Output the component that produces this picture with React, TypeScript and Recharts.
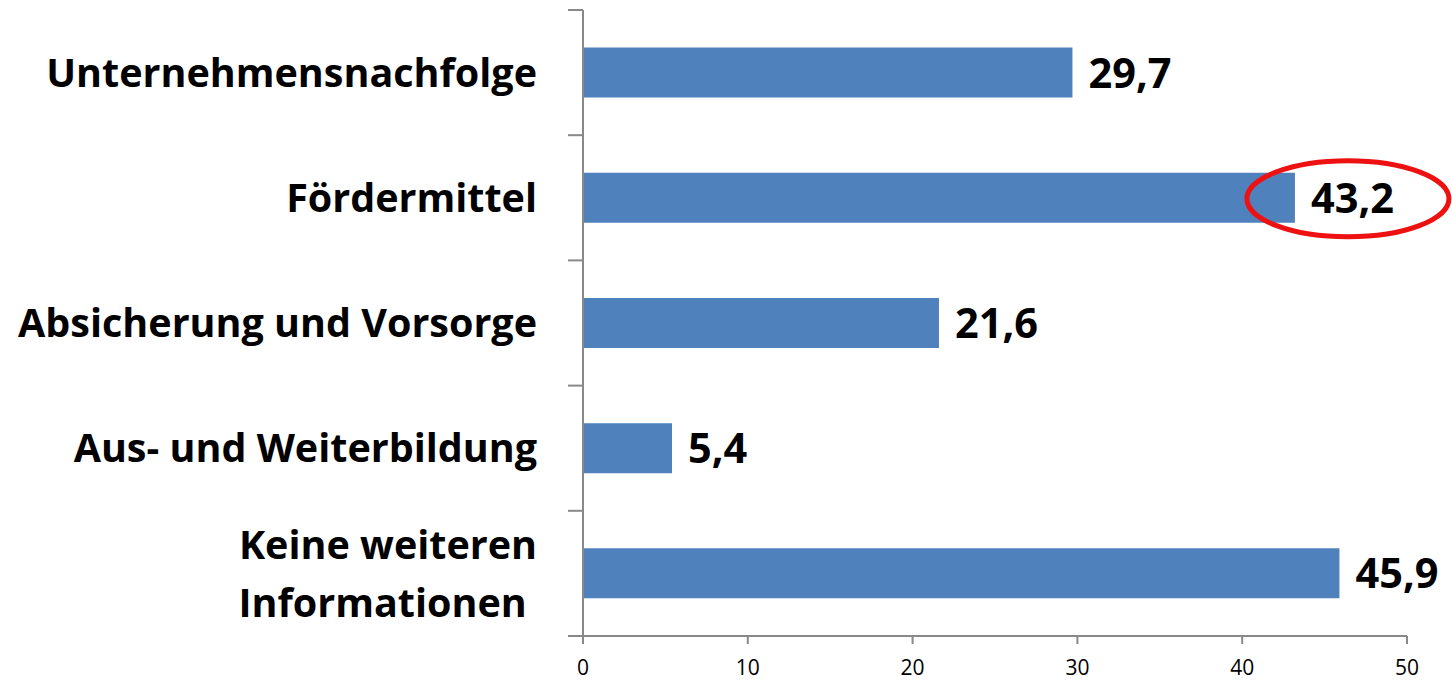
import React from 'react';
import { BarChart, Bar, XAxis, YAxis, LabelList } from 'recharts';

const categories = [
  'Unternehmensnachfolge',
  'Fördermittel',
  'Absicherung und Vorsorge',
  'Aus- und Weiterbildung',
  'Keine weiteren\nInformationen ',
];
const values = [29.7, 43.2, 21.6, 5.4, 45.9];
const highlighted = ['Fördermittel'];
const xTicks = [0, 10, 20, 30, 40, 50];
// category band boundaries, expressed on the index scale [0, n-1] that the helper axis uses
const boundaryTicks = [0, 0.8, 1.6, 2.4, 3.2, 4];

const data = categories.map((name, i) => ({ name, value: values[i], hl: highlighted.includes(name) }));

const FONT = '"Open Sans", "Noto Sans", sans-serif';
const AXIS = '#898989';

const CatTick = (props: any) => {
  const { x, y, payload } = props;
  const lines: string[] = String(payload.value).split('\n');
  const lh = 58;
  const fs = 39.5;
  const start = y - ((lines.length - 1) * lh) / 2 + fs * 0.36;
  return (
    <text x={x} y={start} textAnchor="end" fontFamily={FONT} fontWeight={700} fontSize={fs} fill="#000" style={{ whiteSpace: 'pre' }}>
      {lines.map((l, i) => (
        <tspan key={i} x={x} dy={i === 0 ? 0 : lh}>{l}</tspan>
      ))}
    </text>
  );
};

const NoTick = () => <g />;

const ValueLabel = (props: any) => {
  const { x, y, width, height, value, index } = props;
  const row = data[index];
  const tx = x + width + 16;
  const cy = y + height / 2;
  return (
    <g>
      <text x={tx} y={cy} dy="0.36em" fontFamily={FONT} fontWeight={700} fontSize={41.5} fill="#000">
        {String(value).replace('.', ',')}
      </text>
      {row && row.hl ? (
        <ellipse cx={x + width + 53} cy={cy + 1} rx={101} ry={38} fill="none" stroke="#EE1111" strokeWidth={5} />
      ) : null}
    </g>
  );
};

export default function App() {
  return (
    <div style={{ position: 'absolute', left: 0, top: 0, width: 1452, height: 680, background: '#fff' }}>
      <BarChart
        width={1452}
        height={680}
        data={data}
        layout="vertical"
        margin={{ top: 10, right: 45, bottom: 0, left: 0 }}
        barCategoryGap="30%"
      >
        <XAxis
          type="number"
          domain={[0, 50]}
          ticks={xTicks}
          height={44}
          tickSize={8}
          tickMargin={16}
          stroke={AXIS}
          strokeWidth={2}
          tick={{ fontFamily: FONT, fontSize: 21, fill: '#000' }}
        />
        <YAxis
          yAxisId="a"
          type="number"
          domain={[0, 4]}
          allowDataOverflow={true}
          ticks={boundaryTicks}
          interval={0}
          width={1}
          tick={<NoTick />}
          tickLine={{ stroke: AXIS, strokeWidth: 2 }}
          tickSize={15}
          stroke={AXIS}
          strokeWidth={2}
        />
        <YAxis
          yAxisId="b"
          type="category"
          dataKey="name"
          width={582}
          axisLine={false}
          tickLine={false}
          tickSize={0}
          tickMargin={45}
          interval={0}
          tick={<CatTick />}
        />
        <Bar dataKey="value" yAxisId="b" fill="#4F81BD" isAnimationActive={false}>
          <LabelList dataKey="value" content={<ValueLabel />} />
        </Bar>
      </BarChart>
    </div>
  );
}
